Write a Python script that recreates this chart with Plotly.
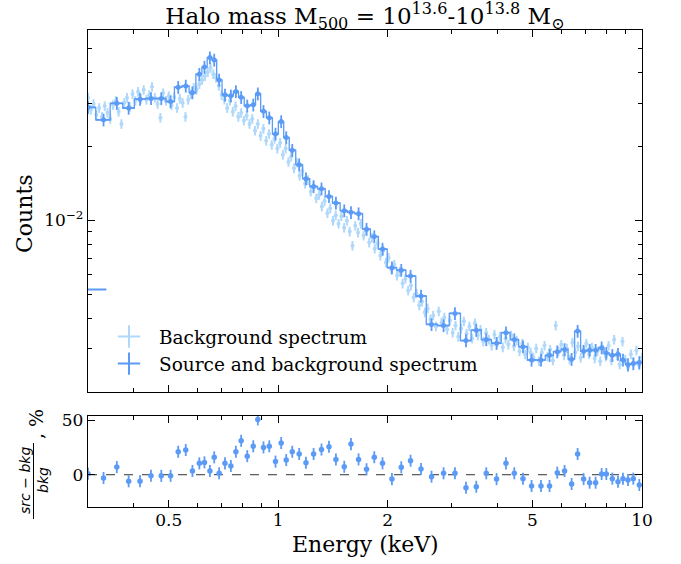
import numpy as np
import plotly.graph_objects as go

# ---------------- data ----------------
# background spectrum: 200 channels log-spaced between 0.3 and 10 keV
bkg_E = np.geomspace(0.3, 10.0, 200)
bkg_counts = [
    0.0316, 0.0282, 0.0298, 0.0269, 0.0287, 0.0264, 0.0292, 0.0274, 0.0259, 0.0295,
    0.0307, 0.0277, 0.0247, 0.0301, 0.0316, 0.0290, 0.0327, 0.0307, 0.0334, 0.0313,
    0.0340, 0.0310, 0.0324, 0.0350, 0.0316, 0.0298, 0.0262, 0.0330, 0.0307, 0.0321,
    0.0295, 0.0318, 0.0287, 0.0313, 0.0301, 0.0264, 0.0310, 0.0327, 0.0347, 0.0340,
    0.0359, 0.0373, 0.0387, 0.0402, 0.0418, 0.0394, 0.0380, 0.0353, 0.0324, 0.0310,
    0.0287, 0.0307, 0.0277, 0.0292, 0.0264, 0.0274, 0.0255, 0.0267, 0.0247, 0.0259,
    0.0232, 0.0247, 0.0221, 0.0236, 0.0211, 0.0225, 0.0203, 0.0215, 0.0196, 0.0207,
    0.0185, 0.0196, 0.0173, 0.0182, 0.0163, 0.0172, 0.0152, 0.0159, 0.0141, 0.0146,
    0.0131, 0.0138, 0.0123, 0.0127, 0.0114, 0.0120, 0.0107, 0.0112, 0.00997, 0.0105,
    0.00969, 0.0104, 0.00934, 0.00997, 0.00900, 0.00789, 0.00951, 0.00892, 0.00969, 0.00867,
    0.00909, 0.00812, 0.00851, 0.00767, 0.00805, 0.00718, 0.00753, 0.00673, 0.00705, 0.00630,
    0.00661, 0.00596, 0.00618, 0.00553, 0.00579, 0.00518, 0.00543, 0.00485, 0.00504, 0.00451,
    0.00467, 0.00422, 0.00438, 0.00395, 0.00410, 0.00370, 0.00426, 0.00384, 0.00402, 0.00359,
    0.00391, 0.00349, 0.00373, 0.00336, 0.00363, 0.00388, 0.00346, 0.00370, 0.00330, 0.00381,
    0.00340, 0.00359, 0.00321, 0.00349, 0.00327, 0.00309, 0.00343, 0.00318, 0.00336, 0.00304,
    0.00330, 0.00312, 0.00340, 0.00307, 0.00324, 0.00293, 0.00315, 0.00285, 0.00304, 0.00290,
    0.00276, 0.00301, 0.00267, 0.00290, 0.00309, 0.00279, 0.00298, 0.00269, 0.00373, 0.00293,
    0.00312, 0.00282, 0.00301, 0.00271, 0.00318, 0.00290, 0.00307, 0.00276, 0.00298, 0.00315,
    0.00285, 0.00304, 0.00274, 0.00293, 0.00267, 0.00298, 0.00279, 0.00309, 0.00269, 0.00327,
    0.00282, 0.00259, 0.00321, 0.00271, 0.00252, 0.00285, 0.00264, 0.00295, 0.00257, 0.00276,
]

# source + background spectrum (binned)
src_E = [
    0.300, 0.331, 0.360, 0.388, 0.417, 0.447, 0.477, 0.506, 0.531, 0.557,
    0.581, 0.607, 0.627, 0.649, 0.667, 0.688, 0.714, 0.741, 0.765, 0.791,
    0.822, 0.854, 0.879, 0.911, 0.945, 0.983, 1.019, 1.052, 1.093, 1.142,
    1.192, 1.251, 1.315, 1.379, 1.441, 1.519, 1.585, 1.663, 1.749, 1.837,
    1.935, 2.054, 2.179, 2.311, 2.469, 2.639, 2.848, 3.061, 3.282, 3.503,
    3.732, 3.983, 4.227, 4.456, 4.708, 4.971, 5.276, 5.570, 5.849, 6.126,
    6.405, 6.653, 6.911, 7.178, 7.456, 7.745, 7.978, 8.287, 8.590, 8.866,
    9.151, 9.465, 9.831,
]
src_counts = [
    0.02885, 0.02567, 0.02997, 0.02866, 0.03117, 0.03135, 0.03135, 0.03046, 0.03484, 0.03526,
    0.03312, 0.03937, 0.04210, 0.04600, 0.04499, 0.03733, 0.03244, 0.03214, 0.03349, 0.03169,
    0.02926, 0.02954, 0.03279, 0.02779, 0.02616, 0.02247, 0.02526, 0.02174, 0.01930, 0.01685,
    0.01478, 0.01374, 0.01345, 0.01252, 0.01177, 0.01095, 0.01078, 0.01065, 0.00921, 0.00859,
    0.00764, 0.00642, 0.00627, 0.00593, 0.00492, 0.00377, 0.00373, 0.00418, 0.00324, 0.00357,
    0.00327, 0.00316, 0.00349, 0.00327, 0.00306, 0.00270, 0.00270, 0.00282, 0.00292, 0.00298,
    0.00272, 0.00354, 0.00293, 0.00296, 0.00296, 0.00303, 0.00288, 0.00282, 0.00285, 0.00270,
    0.00259, 0.00261, 0.00264,
]
# relative difference (src - bkg)/bkg in percent, per source bin
ratio_pct = [
    1, -3, 7, -6, -6, -1, -1, -1, 21, 22.6,
    3.4, 10.4, 11.3, 3.4, 15.9, 1.3, 10.4, 8, 21, 31,
    17, 26, 50.6, 25, 26, 12, 29, 13.4, 21, 19,
    11, 19, 23, 25.6, 14, 7.3, 28, 14, 5, 16,
    10.4, -4, 6.8, 12.8, 5.2, -1.8, 1.3, 1.3, -11.9, -11,
    1.3, -4, 10.4, 1.3, -3.6, -10.3, -10.3, -10.3, 1.9, 3.4,
    -8.5, 19, -4, -7.3, -7.3, 0.6, 0.6, -3.6, -6.4, -3.6,
    -4.8, -3.6, -9.4,
]
# one stray low-energy source bin lying mostly below the plotted range
stray_E = [0.285]
stray_lo = [0.262]
stray_hi = [0.337]
stray_counts = [0.00523]

major_x = [0.5, 1, 2, 5, 10]
major_x_text = ["0.5", "1", "2", "5", "10"]
minor_x = [0.3, 0.4, 0.6, 0.7, 0.8, 0.9, 3, 4, 6, 7, 8, 9]
major_y = [0.01]
major_y_text = ["10<sup>\u22122</sup>"]
minor_y = [0.002, 0.003, 0.004, 0.005, 0.006, 0.007, 0.008, 0.009, 0.02, 0.03, 0.04, 0.05]
ratio_ticks = [0, 50]

# ---------------- derived bin widths ----------------
E = np.array(src_E)
mids = np.sqrt(E[:-1] * E[1:])
lo_edges = np.concatenate([[E[0] ** 2 / mids[0]], mids])
hi_edges = np.concatenate([mids, [E[-1] ** 2 / mids[-1]]])

SRC = "#5b9bf6"
BKG = "#b0d8fa"
SERIF = "DejaVu Serif"

fig = go.Figure()

# background spectrum
fig.add_trace(go.Scatter(
    x=bkg_E, y=bkg_counts, mode="markers", xaxis="x", yaxis="y",
    marker=dict(color=BKG, size=4),
    error_y=dict(type="percent", value=4.5, color=BKG, thickness=2, width=0),
    error_x=dict(type="percent", value=0.9, color=BKG, thickness=2, width=0),
    showlegend=False, hoverinfo="skip",
))

# stray bin
fig.add_trace(go.Scatter(
    x=stray_E, y=stray_counts, mode="markers", xaxis="x", yaxis="y",
    marker=dict(color=SRC, size=5),
    error_x=dict(type="data", symmetric=False,
                 array=[h - e for h, e in zip(stray_hi, stray_E)],
                 arrayminus=[e - l for l, e in zip(stray_lo, stray_E)],
                 color=SRC, thickness=1.8, width=0),
    error_y=dict(type="percent", value=6, color=SRC, thickness=1.8, width=0),
    showlegend=False, hoverinfo="skip",
))

# step line of source spectrum
fig.add_trace(go.Scatter(
    x=src_E, y=src_counts, mode="lines", line=dict(color=SRC, width=1.3, shape="hvh"),
    xaxis="x", yaxis="y", showlegend=False, hoverinfo="skip",
))

# source spectrum points
fig.add_trace(go.Scatter(
    x=src_E, y=src_counts, mode="markers", xaxis="x", yaxis="y",
    marker=dict(color=SRC, size=5),
    error_x=dict(type="data", symmetric=False, array=hi_edges - E, arrayminus=E - lo_edges,
                 color=SRC, thickness=1.8, width=0),
    error_y=dict(type="percent", value=6, color=SRC, thickness=1.8, width=0),
    showlegend=False, hoverinfo="skip",
))

# legend entries
fig.add_trace(go.Scatter(
    x=[None], y=[None], mode="markers", name="Background spectrum", xaxis="x", yaxis="y",
    marker=dict(symbol="cross-thin-open", size=20, color=BKG, line=dict(color=BKG, width=2)),
))
fig.add_trace(go.Scatter(
    x=[None], y=[None], mode="markers", name="Source and background spectrum", xaxis="x", yaxis="y",
    marker=dict(symbol="cross-thin-open", size=20, color=SRC, line=dict(color=SRC, width=2)),
))

# ratio panel
fig.add_trace(go.Scatter(
    x=src_E, y=ratio_pct, mode="markers", xaxis="x2", yaxis="y2",
    marker=dict(color=SRC, size=5.5),
    error_y=dict(type="constant", value=5.5, color=SRC, thickness=1.8, width=0),
    showlegend=False, hoverinfo="skip",
))

axis_common = dict(
    type="log", range=[np.log10(0.3), 1.0],
    showline=True, linecolor="black", linewidth=1.3, mirror="allticks",
    ticks="inside", ticklen=7, tickwidth=1.1, tickcolor="black",
    tickvals=major_x, ticktext=major_x_text,
    minor=dict(tickvals=minor_x, ticks="inside", ticklen=4, tickwidth=1, tickcolor="black"),
    showgrid=False, zeroline=False,
    tickfont=dict(family=SERIF, size=17, color="black"),
)

fig.update_layout(
    width=681, height=564,
    margin=dict(l=88, r=39, t=30, b=57),
    paper_bgcolor="white", plot_bgcolor="white",
    font=dict(family=SERIF, color="black"),
    title=dict(text="Halo mass M<sub>500</sub> = 10<sup>13.6</sup>-10<sup>13.8</sup> M<sub>\u2299</sub>",
               x=(365) / 681, xanchor="center", y=1 - 16 / 564, yanchor="middle",
               font=dict(family=SERIF, size=23, color="black")),
    xaxis=dict(axis_common, anchor="y", showticklabels=False, matches="x2"),
    xaxis2=dict(axis_common, anchor="y2", showticklabels=True, ticklabelstandoff=-3),
    yaxis=dict(
        domain=[(507 - 392) / 477, 1], type="log",
        range=[np.log10(0.002), np.log10(0.0596)],
        showline=True, linecolor="black", linewidth=1.3, mirror="allticks",
        ticks="inside", ticklen=7, tickwidth=1.1, tickcolor="black",
        tickvals=major_y, ticktext=major_y_text,
        minor=dict(tickvals=minor_y, ticks="inside", ticklen=4, tickwidth=1, tickcolor="black"),
        showgrid=False, zeroline=False,
        tickfont=dict(family=SERIF, size=17, color="black"),
    ),
    yaxis2=dict(
        domain=[0, (507 - 416) / 477], range=[-29.5, 53.7],
        showline=True, linecolor="black", linewidth=1.3, mirror="allticks",
        ticks="inside", ticklen=7, tickwidth=1.1, tickcolor="black",
        tickvals=ratio_ticks,
        showgrid=False, zeroline=False,
        tickfont=dict(family=SERIF, size=17, color="black"),
    ),
    legend=dict(
        x=(99 - 88) / 554, y=(507 - 318) / 477, xanchor="left", yanchor="top",
        bgcolor="rgba(255,255,255,0)", font=dict(family=SERIF, size=18.5, color="black"),
        itemsizing="trace", itemwidth=50, tracegroupgap=0,
    ),
    shapes=[
        dict(type="line", xref="x2 domain", yref="y2", x0=0, x1=1, y0=0, y1=0,
             line=dict(color="#333333", width=1, dash="dash"), layer="below"),
        dict(type="line", xref="paper", yref="paper",
             x0=(33.5 - 88) / 554, x1=(33.5 - 88) / 554,
             y0=(507 - 519) / 477, y1=(507 - 443) / 477,
             line=dict(color="black", width=1)),
    ],
)

def px_x(p):
    return (p - 88) / 554

def px_y(p):
    return (507 - p) / 477

annotations = [
    dict(text="Counts", x=px_x(25), y=px_y(214), xref="paper", yref="paper",
         textangle=-90, showarrow=False, xanchor="center", yanchor="middle",
         font=dict(family=SERIF, size=22, color="black")),
    dict(text="Energy (keV)", x=px_x(365), y=px_y(544), xref="paper", yref="paper",
         showarrow=False, xanchor="center", yanchor="middle",
         font=dict(family=SERIF, size=22, color="black")),
    dict(text="<i>src</i> \u2212 <i>bkg</i>", x=px_x(25), y=px_y(481), xref="paper", yref="paper",
         textangle=-90, showarrow=False, xanchor="center", yanchor="middle",
         font=dict(family="DejaVu Sans", size=14, color="black")),
    dict(text="<i>bkg</i>", x=px_x(43), y=px_y(480), xref="paper", yref="paper",
         textangle=-90, showarrow=False, xanchor="center", yanchor="middle",
         font=dict(family="DejaVu Sans", size=14, color="black")),
    dict(text=", %", x=px_x(36), y=px_y(424), xref="paper", yref="paper",
         textangle=-90, showarrow=False, xanchor="center", yanchor="middle",
         font=dict(family=SERIF, size=19, color="black")),
]
fig.update_layout(annotations=annotations)

fig.write_html("out.html", config={"displayModeBar": False},
               post_script="document.body.style.margin='0px';")
